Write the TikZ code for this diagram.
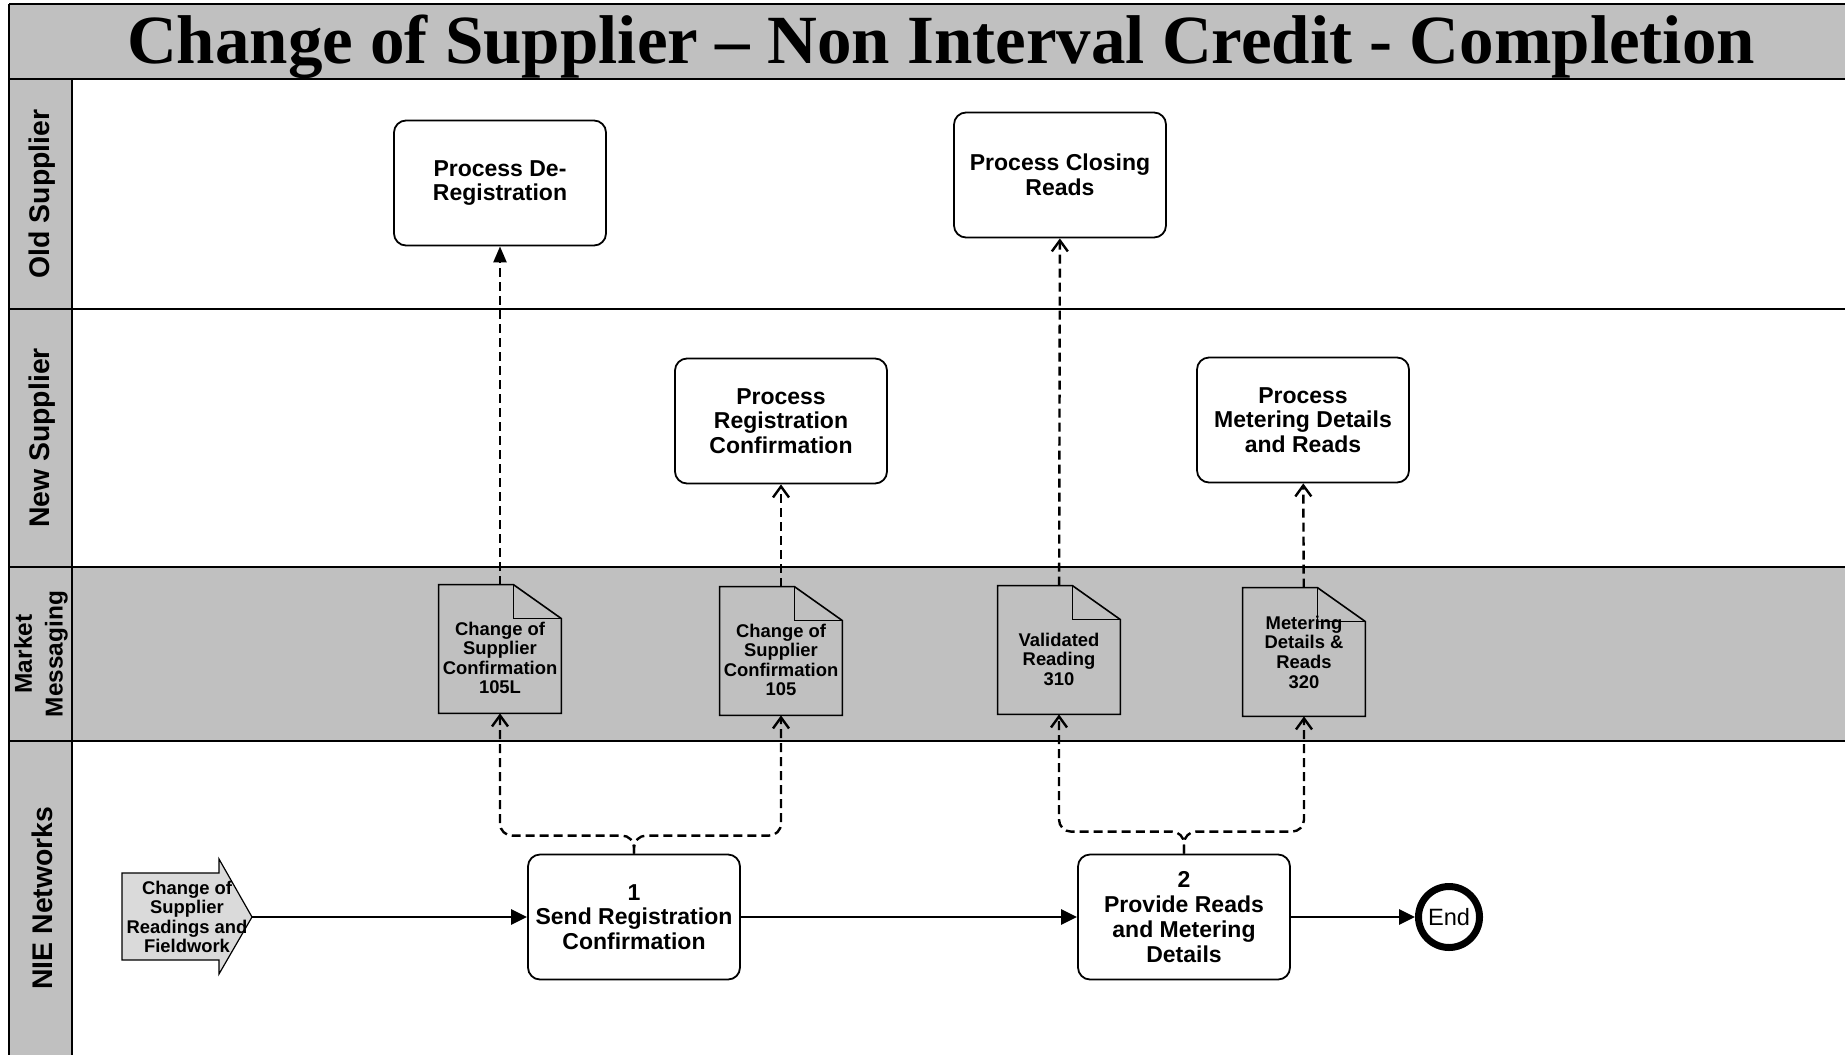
\documentclass[tikz,border=0pt]{standalone}
\usepackage{fontspec}
\setmainfont{Liberation Sans}
\newfontfamily\titlefont{Liberation Serif}
\usetikzlibrary{arrows.meta}
\definecolor{lanegray}{RGB}{192,192,192}
\definecolor{startgray}{RGB}{218,218,218}

\begin{document}
\begin{tikzpicture}[x=0.5pt, y=-0.5pt,
		frame/.style={line width=1pt},
		proc/.style={draw, line width=0.9pt, rounded corners=6pt, fill=white, minimum width=106pt, minimum height=62.5pt, align=center, inner sep=1pt, font=\fontsize{11.5}{12.4}\selectfont\bfseries},
		doc/.style={fill=lanegray, minimum width=61pt, minimum height=64pt, align=center, inner sep=0pt, font=\fontsize{9.2}{9.8}\selectfont\bfseries},
		lanelabel/.style={rotate=90, font=\fontsize{14.2}{16}\selectfont\bfseries},
		flow/.style={line width=1.4pt, -{Triangle[length=8pt,width=7.5pt]}},
		msg/.style={line width=1.2pt, dash pattern=on 4.5pt off 2.5pt, rounded corners=6pt, -{Straight Barb[length=5.5pt,width=8pt]}},
		endnode/.style={circle, draw, line width=3.5pt, minimum size=30.5pt, inner sep=0pt, font=\fontsize{11.8}{13}\selectfont}
	]
	\useasboundingbox (0,0) rectangle (1845,1055);

	\fill[lanegray] (9,4) rectangle (1845,79);
	\fill[lanegray] (9,79) rectangle (72,1055);
	\fill[lanegray] (72,567) rectangle (1845,741);
	\foreach \y in {4, 79, 309, 567, 741} {
		\draw[frame] (9,\y) -- (1845,\y);
	}
	\draw[frame] (9,4) -- (9,1055);
	\draw[frame] (72,79) -- (72,1055);

	\node[font=\titlefont\fontsize{34.5}{40}\selectfont\bfseries, anchor=base] (title) at (941,63) {Change of Supplier – Non Interval Credit - Completion};

	\node[lanelabel] (oldsup) at (42,194) {Old Supplier};
	\node[lanelabel] (newsup) at (42,438) {New Supplier};
	\node[lanelabel, align=center, font=\fontsize{12.2}{15.3}\selectfont\bfseries] (market) at (41,654) {Market\\Messaging};
	\node[lanelabel] (nie) at (42,898) {NIE Networks};

	\node[proc] (dereg) at (500,183) {Process De-\\Registration};
	\node[proc] (closing) at (1060,175) {Process Closing\\Reads};
	\node[proc] (regconf) at (781,421) {Process\\Registration\\Confirmation};
	\node[proc] (metproc) at (1303,420) {Process\\Metering Details\\and Reads};
	\node[proc] (send) at (634,917) {1\\Send Registration\\Confirmation};
	\node[proc] (provide) at (1184,917) {2\\Provide Reads\\and Metering\\Details};
	\node[endnode] (end) at (1449,917) {End};

	\foreach \n/\x/\y/\h/\t in {d105L/500/649/45pt/{Change of\\Supplier\\Confirmation\\105L}, d105/781/651/45pt/{Change of\\Supplier\\Confirmation\\105}, d310/1059/650/35.4pt/{Validated\\Reading\\310}, d320/1304/652/36.2pt/{Metering\\Details \&\\Reads\\320}} {
		\node[doc, text height=\h] (\n) at (\x,\y) {\t};
		\draw[line width=0.8pt] (\n.south west) -- (\n.north west) -- ([xshift=-24pt]\n.north east) -- ([yshift=-17pt]\n.north east) -- (\n.south east) -- cycle;
		\draw[line width=0.8pt] ([xshift=-24pt]\n.north east) |- ([yshift=-17pt]\n.north east);
	}

	\draw[line width=0.6pt, fill=startgray] (122,873) -- (219,873) -- (219,859) -- (252,917) -- (219,974) -- (219,960) -- (122,960) -- cycle;
	\node[align=center, inner sep=0pt, font=\fontsize{9.2}{9.8}\selectfont\bfseries] (start) at (187,917) {Change of\\Supplier\\Readings and\\Fieldwork};
	\coordinate (starttip) at (252,917);

	\draw[flow] (starttip) -- (send);
	\draw[flow] (send) -- (provide);
	\draw[flow] (provide) -- (end);

	\draw[msg] (send.north) -- ++(0,-18) -| (d105L.south);
	\draw[msg] (send.north) -- ++(0,-18) -| (d105.south);
	\draw[msg] (provide.north) -- ++(0,-22) -| (d310.south);
	\draw[msg] (provide.north) -- ++(0,-22) -| (d320.south);
	\draw[msg, -{Triangle[length=8pt,width=6.5pt]}] (d105L) -- (dereg);
	\draw[msg] (d105) -- (regconf);
	\draw[msg] (d310) -- (closing);
	\draw[msg] (d320) -- (metproc);
\end{tikzpicture}
\end{document}
